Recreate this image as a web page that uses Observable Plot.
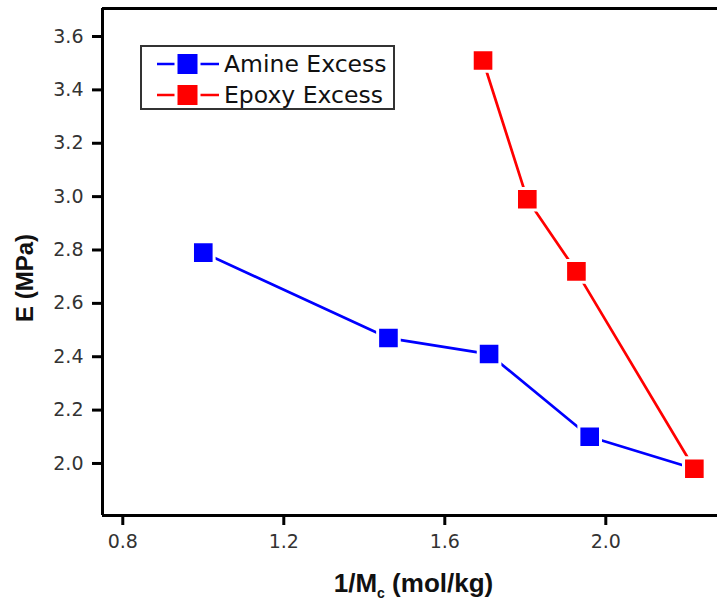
<!DOCTYPE html>
<html><head><meta charset="utf-8">
<script src="https://cdn.jsdelivr.net/npm/d3@7"></script>
<script src="https://cdn.jsdelivr.net/npm/@observablehq/plot@0.6"></script>
<style>
body{margin:0;background:#fff;}
#wrap{position:relative;width:717px;height:605px;overflow:hidden;background:#fff;}
#wrap svg{position:absolute;left:0;top:0;}
.legend{position:absolute;left:140px;top:45px;width:251px;height:61px;border:2px solid #333;background:#fff;font-family:"DejaVu Sans",sans-serif;font-size:23.5px;color:#111;}
.legend .row{position:absolute;left:15px;height:30px;display:flex;align-items:center;white-space:nowrap;}
.legend svg{position:static !important;margin-right:5px;}
.xtitle{position:absolute;left:0;width:827px;top:568px;text-align:center;font-family:"Liberation Sans",Arial,sans-serif;font-weight:bold;font-size:26px;color:#111;white-space:nowrap;}
.xtitle sub{font-size:14px;vertical-align:-6px;}
.ytitle{position:absolute;left:25px;top:278px;transform:translate(-50%,-50%) rotate(-90deg);font-family:"Liberation Sans",Arial,sans-serif;font-weight:bold;font-size:24px;color:#111;white-space:nowrap;}
</style></head><body>
<div id="wrap"></div>
<script>
// Data
const amineX = [1.00, 1.46, 1.71, 1.96, 2.22];
const amineY = [2.79, 2.47, 2.41, 2.10, 1.98];
const epoxyX = [1.695, 1.805, 1.927, 2.22];
const epoxyY = [3.51, 2.99, 2.72, 1.98];
const seriesNames = ["Amine Excess", "Epoxy Excess"];
const seriesColors = ["#0000ff", "#ff0000"];
const xTicks = [0.8, 1.2, 1.6, 2.0];
const yTicks = [2.0, 2.2, 2.4, 2.6, 2.8, 3.0, 3.2, 3.4, 3.6];
const xDomain = [0.7496, 2.2775];
const yDomain = [1.805, 3.705];

const amine = amineX.map((x, i) => ({x, y: amineY[i]}));
const epoxy = epoxyX.map((x, i) => ({x, y: epoxyY[i]}));

const plot = Plot.plot({
  width: 717, height: 605,
  marginLeft: 102, marginRight: 0, marginTop: 8, marginBottom: 90,
  style: {fontFamily: "DejaVu Sans, sans-serif", fontSize: "19px", color: "#000", background: "transparent", overflow: "visible"},
  x: {domain: xDomain},
  y: {domain: yDomain},
  marks: [
    Plot.axisX({ticks: xTicks, tickFormat: d => d.toFixed(1), tickSize: 10, tickPadding: 9, strokeWidth: 3, label: null}),
    Plot.axisY({ticks: yTicks, tickFormat: d => d.toFixed(1), tickSize: 10, tickPadding: 9, strokeWidth: 3, label: null}),
    Plot.ruleX([xDomain[0]], {strokeWidth: 3, stroke: "#000"}),
    Plot.ruleY([yDomain[0]], {strokeWidth: 3, stroke: "#000"}),
    Plot.ruleY([yDomain[1]], {strokeWidth: 3, stroke: "#000"}),
    Plot.line(amine, {x: "x", y: "y", stroke: seriesColors[0], strokeWidth: 2.7}),
    Plot.line(epoxy, {x: "x", y: "y", stroke: seriesColors[1], strokeWidth: 2.7}),
    Plot.dot(amine, {x: "x", y: "y", symbol: "square", r: 12.2, fill: seriesColors[0], stroke: "#fff", strokeWidth: 3}),
    Plot.dot(epoxy, {x: "x", y: "y", symbol: "square", r: 12.2, fill: seriesColors[1], stroke: "#fff", strokeWidth: 3})
  ]
});
const svgSel = d3.select(plot);
svgSel.selectAll("g[aria-label]").each(function() {
  const lab = this.getAttribute("aria-label") || "";
  if (/tick label/.test(lab)) {
    d3.select(this).selectAll("text").attr("fill", "#333");
  } else if (/axis tick/.test(lab) || /tick$/.test(lab)) {
    d3.select(this).attr("stroke-width", 3).attr("stroke", "#000");
    d3.select(this).selectAll("path,line").attr("stroke-width", 3).style("stroke-width", "3px");
  }
});
const wrap = document.getElementById("wrap");
wrap.appendChild(plot);

// Legend (inside plot area, top-left)
const leg = document.createElement("div");
leg.className = "legend";
seriesNames.forEach((name, i) => {
  const row = document.createElement("div");
  row.className = "row";
  row.style.top = (2 + i * 31) + "px";
  const ns = "http://www.w3.org/2000/svg";
  const sw = document.createElementNS(ns, "svg");
  sw.setAttribute("width", 62); sw.setAttribute("height", 22);
  const ln = document.createElementNS(ns, "line");
  ln.setAttribute("x1", 0); ln.setAttribute("x2", 62); ln.setAttribute("y1", 11); ln.setAttribute("y2", 11);
  ln.setAttribute("stroke", seriesColors[i]); ln.setAttribute("stroke-width", 2.7);
  const rc = document.createElementNS(ns, "rect");
  rc.setAttribute("x", 19); rc.setAttribute("y", -0.5); rc.setAttribute("width", 23); rc.setAttribute("height", 23);
  rc.setAttribute("fill", seriesColors[i]); rc.setAttribute("stroke", "#fff"); rc.setAttribute("stroke-width", 3);
  sw.appendChild(ln); sw.appendChild(rc);
  const tx = document.createElement("span");
  tx.textContent = name;
  row.appendChild(sw); row.appendChild(tx);
  leg.appendChild(row);
});
wrap.appendChild(leg);

const xt = document.createElement("div");
xt.className = "xtitle";
xt.innerHTML = "1/M<sub>c</sub> (mol/kg)";
wrap.appendChild(xt);
const yt = document.createElement("div");
yt.className = "ytitle";
yt.textContent = "E (MPa)";
wrap.appendChild(yt);
</script>
</body></html>
